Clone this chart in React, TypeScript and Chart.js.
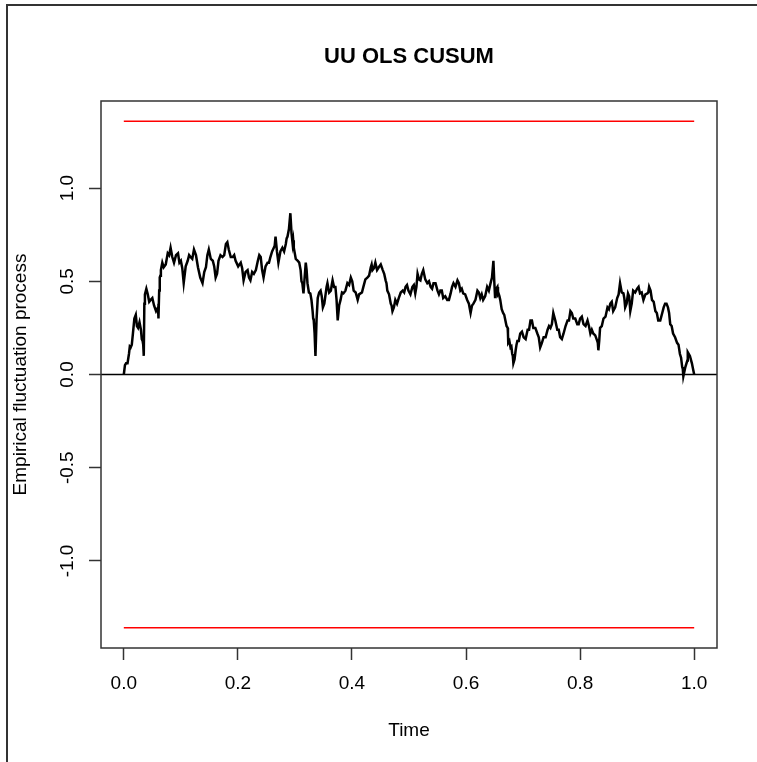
import React, { useEffect, useRef } from 'react';
import { Chart, registerables } from 'chart.js';
Chart.register(...registerables);

const chartTitle = 'UU OLS CUSUM';
const xTitle = 'Time';
const yTitle = 'Empirical fluctuation process';
const xTickValues = [0, 0.2, 0.4, 0.6, 0.8, 1.0];
const yTickValues = [-1.0, -0.5, 0, 0.5, 1.0];
const boundary = 1.358;
const xLimits = [-0.04, 1.04];
const yLimits = [-1.467, 1.467];

// main readings of the path
const timePoints = [
  0, 0.004, 0.009, 0.012, 0.016, 0.021, 0.025, 0.030, 0.033, 0.035,
  0.037, 0.042, 0.047, 0.053, 0.060, 0.061, 0.063, 0.065, 0.070, 0.077,
  0.082, 0.088, 0.095, 0.100, 0.105, 0.112, 0.117, 0.123, 0.130, 0.138,
  0.144, 0.149, 0.156, 0.161, 0.166, 0.173, 0.179, 0.184, 0.191, 0.196,
  0.205, 0.210, 0.217, 0.222, 0.228, 0.235, 0.240, 0.245, 0.252, 0.257,
  0.263, 0.266, 0.271, 0.278, 0.284, 0.287, 0.292, 0.296, 0.298, 0.305,
  0.310, 0.313, 0.315, 0.319, 0.322, 0.327, 0.331, 0.333, 0.336, 0.340,
  0.345, 0.349, 0.354, 0.357, 0.363, 0.366, 0.371, 0.375, 0.380, 0.385,
  0.392, 0.398, 0.403, 0.410, 0.415, 0.420, 0.427, 0.433, 0.436, 0.441,
  0.447, 0.454, 0.459, 0.462, 0.468, 0.471, 0.476, 0.482, 0.489, 0.494,
  0.499, 0.506, 0.511, 0.515, 0.520, 0.525, 0.532, 0.538, 0.543, 0.550,
  0.555, 0.560, 0.567, 0.573, 0.578, 0.585, 0.590, 0.595, 0.602, 0.608,
  0.613, 0.620, 0.625, 0.630, 0.637, 0.643, 0.648, 0.651, 0.655, 0.657,
  0.660, 0.665, 0.669, 0.673, 0.674, 0.678, 0.681, 0.683, 0.687, 0.690,
  0.695, 0.701, 0.708, 0.713, 0.718, 0.725, 0.730, 0.736, 0.743, 0.748,
  0.753, 0.760, 0.765, 0.771, 0.778, 0.783, 0.788, 0.795, 0.800, 0.806,
  0.813, 0.818, 0.823, 0.830, 0.832, 0.835, 0.841, 0.848, 0.853, 0.858,
  0.865, 0.870, 0.876, 0.879, 0.884, 0.888, 0.893, 0.900, 0.905, 0.911,
  0.918, 0.921, 0.926, 0.932, 0.937, 0.944, 0.949, 0.954, 0.958, 0.963,
  0.970, 0.975, 0.979, 0.981, 0.988, 0.989, 0.996, 1.000,
];

const fluctuation = [
  0, 0.06, 0.11, 0.145, 0.22, 0.32, 0.25, 0.24, 0.18, 0.10,
  0.43, 0.43, 0.40, 0.37, 0.36, 0.30, 0.52, 0.56, 0.575, 0.65,
  0.68, 0.60, 0.65, 0.61, 0.49, 0.61, 0.63, 0.67, 0.575, 0.49,
  0.575, 0.67, 0.61, 0.52, 0.61, 0.63, 0.70, 0.67, 0.63, 0.61,
  0.60, 0.505, 0.56, 0.505, 0.54, 0.61, 0.63, 0.52, 0.60, 0.63,
  0.68, 0.74, 0.60, 0.68, 0.70, 0.74, 0.865, 0.70, 0.68, 0.61,
  0.56, 0.49, 0.435, 0.60, 0.49, 0.435, 0.34, 0.29, 0.10, 0.41,
  0.45, 0.36, 0.435, 0.49, 0.45, 0.505, 0.47, 0.29, 0.40, 0.435,
  0.49, 0.52, 0.45, 0.40, 0.435, 0.47, 0.52, 0.575, 0.56, 0.60,
  0.575, 0.56, 0.505, 0.45, 0.38, 0.34, 0.40, 0.41, 0.45, 0.47,
  0.45, 0.47, 0.435, 0.54, 0.505, 0.56, 0.49, 0.47, 0.49, 0.45,
  0.45, 0.41, 0.40, 0.435, 0.49, 0.505, 0.45, 0.435, 0.40, 0.33,
  0.38, 0.45, 0.41, 0.40, 0.47, 0.49, 0.61, 0.41, 0.47, 0.435,
  0.40, 0.33, 0.29, 0.25, 0.17, 0.145, 0.11, 0.06, 0.13, 0.18,
  0.22, 0.20, 0.24, 0.29, 0.25, 0.22, 0.145, 0.20, 0.24, 0.25,
  0.33, 0.24, 0.20, 0.22, 0.29, 0.34, 0.30, 0.27, 0.30, 0.27,
  0.29, 0.22, 0.22, 0.18, 0.13, 0.25, 0.30, 0.36, 0.38, 0.34,
  0.41, 0.49, 0.435, 0.36, 0.435, 0.34, 0.45, 0.46, 0.435, 0.40,
  0.435, 0.47, 0.40, 0.34, 0.29, 0.33, 0.38, 0.36, 0.27, 0.22,
  0.17, 0.11, 0.04, -0.01, 0.075, 0.12, 0.06, 0.00,
];

// in-between readings (the fine jitter between the main readings)
const midTimes = [
  0.002, 0.0065, 0.0105, 0.014, 0.0185, 0.023, 0.0275, 0.0315, 0.034, 0.036,
  0.0395, 0.0445, 0.050, 0.0565, 0.0605, 0.062, 0.064, 0.0675, 0.0735, 0.0795,
  0.085, 0.0915, 0.0975, 0.1025, 0.1085, 0.1145, 0.120, 0.1265, 0.134, 0.141,
  0.1465, 0.1525, 0.1585, 0.1635, 0.1695, 0.176, 0.1815, 0.1875, 0.1935, 0.2005,
  0.2075, 0.2135, 0.2195, 0.225, 0.2315, 0.2375, 0.2425, 0.2485, 0.2545, 0.260,
  0.2645, 0.2685, 0.2745, 0.281, 0.2855, 0.2895, 0.294, 0.297, 0.3015, 0.3075,
  0.3115, 0.314, 0.317, 0.3205, 0.3245, 0.329, 0.332, 0.3345, 0.338, 0.3425,
  0.347, 0.3515, 0.3555, 0.360, 0.3645, 0.3685, 0.373, 0.3775, 0.3825, 0.3885,
  0.395, 0.4005, 0.4065, 0.4125, 0.4175, 0.4235, 0.430, 0.4345, 0.4385, 0.444,
  0.4505, 0.4565, 0.4605, 0.465, 0.4695, 0.4735, 0.479, 0.4855, 0.4915, 0.4965,
  0.5025, 0.5085, 0.513, 0.5175, 0.5225, 0.5285, 0.535, 0.5405, 0.5465, 0.5525,
  0.5575, 0.5635, 0.570, 0.5755, 0.5815, 0.5875, 0.5925, 0.5985, 0.605, 0.6105,
  0.6165, 0.6225, 0.6275, 0.6335, 0.640, 0.6455, 0.6495, 0.653, 0.656, 0.6585,
  0.6625, 0.667, 0.671, 0.6735, 0.676, 0.6795, 0.682, 0.685, 0.6885, 0.6925,
  0.698, 0.7045, 0.7105, 0.7155, 0.7215, 0.7275, 0.733, 0.7395, 0.7455, 0.7505,
  0.7565, 0.7625, 0.768, 0.7745, 0.7805, 0.7855, 0.7915, 0.7975, 0.803, 0.8095,
  0.8155, 0.8205, 0.8265, 0.831, 0.8335, 0.838, 0.8445, 0.8505, 0.8555, 0.8615,
  0.8675, 0.873, 0.8775, 0.8815, 0.886, 0.8905, 0.8965, 0.9025, 0.908, 0.9145,
  0.9195, 0.9235, 0.929, 0.9345, 0.9405, 0.9465, 0.9515, 0.956, 0.9605, 0.9665,
  0.9725, 0.977, 0.980, 0.9845, 0.9885, 0.9925, 0.998,
];

const midValues = [
  0.05, 0.06, 0.15, 0.16, 0.30, 0.26, 0.28, 0.19, 0.16, 0.38,
  0.46, 0.39, 0.41, 0.34, 0.38, 0.45, 0.53, 0.60, 0.59, 0.64,
  0.63, 0.64, 0.60, 0.57, 0.58, 0.64, 0.62, 0.64, 0.52, 0.55,
  0.64, 0.62, 0.58, 0.54, 0.64, 0.64, 0.71, 0.63, 0.64, 0.58,
  0.57, 0.55, 0.52, 0.55, 0.56, 0.64, 0.56, 0.58, 0.60, 0.66,
  0.69, 0.66, 0.66, 0.66, 0.73, 0.78, 0.76, 0.72, 0.62, 0.60,
  0.50, 0.49, 0.52, 0.56, 0.44, 0.40, 0.30, 0.22, 0.30, 0.44,
  0.42, 0.38, 0.47, 0.44, 0.48, 0.47, 0.40, 0.37, 0.44, 0.45,
  0.48, 0.50, 0.44, 0.43, 0.44, 0.51, 0.53, 0.59, 0.57, 0.56,
  0.59, 0.54, 0.49, 0.43, 0.37, 0.36, 0.38, 0.44, 0.44, 0.48,
  0.43, 0.48, 0.47, 0.51, 0.54, 0.51, 0.50, 0.46, 0.49, 0.43,
  0.45, 0.42, 0.40, 0.47, 0.47, 0.49, 0.46, 0.43, 0.38, 0.37,
  0.40, 0.44, 0.43, 0.42, 0.45, 0.52, 0.50, 0.46, 0.43, 0.42,
  0.35, 0.32, 0.26, 0.22, 0.18, 0.15, 0.10, 0.08, 0.16, 0.18,
  0.23, 0.19, 0.24, 0.29, 0.25, 0.20, 0.17, 0.20, 0.26, 0.27,
  0.29, 0.24, 0.19, 0.26, 0.29, 0.33, 0.30, 0.27, 0.31, 0.26,
  0.26, 0.24, 0.21, 0.17, 0.18, 0.26, 0.31, 0.35, 0.39, 0.36,
  0.43, 0.44, 0.41, 0.38, 0.42, 0.38, 0.44, 0.47, 0.44, 0.43,
  0.44, 0.45, 0.39, 0.33, 0.29, 0.36, 0.38, 0.33, 0.26, 0.20,
  0.16, 0.09, 0.03, 0.04, 0.10, 0.10, 0.03,
];

const FONT = "'Liberation Sans', Arial, sans-serif";

export default function App() {
  const ref = useRef<HTMLCanvasElement | null>(null);

  useEffect(() => {
    document.body.style.margin = '0';
    const canvas = ref.current;
    if (!canvas) return;

    const pathData: { x: number; y: number }[] = [];
    timePoints.forEach((t, i) => {
      pathData.push({ x: t, y: fluctuation[i] });
      if (i < midTimes.length) pathData.push({ x: midTimes[i], y: midValues[i] });
    });

    const framePlugin = {
      id: 'framePlugin',
      afterDraw(chart: any) {
        const { ctx, chartArea } = chart;
        ctx.save();
        ctx.strokeStyle = '#333333';
        ctx.lineWidth = 2;
        ctx.beginPath();
        ctx.moveTo(7, 762);
        ctx.lineTo(7, 5);
        ctx.lineTo(757, 5);
        ctx.stroke();
        ctx.lineWidth = 1.5;
        ctx.strokeRect(chartArea.left, chartArea.top, chartArea.right - chartArea.left, chartArea.bottom - chartArea.top);
        ctx.fillStyle = '#000';
        ctx.font = `bold 22px ${FONT}`;
        ctx.textAlign = 'center';
        ctx.textBaseline = 'middle';
        ctx.fillText(chartTitle, (chartArea.left + chartArea.right) / 2, 57);
        ctx.restore();
      },
    };

    const chart = new Chart(canvas, {
      type: 'scatter',
      data: {
        datasets: [
          {
            label: 'process',
            data: pathData,
            showLine: true,
            borderColor: '#000000',
            borderWidth: 2.5,
            borderJoinStyle: 'miter',
            pointRadius: 0,
            tension: 0,
          },
          {
            label: 'zero',
            data: [{ x: xLimits[0], y: 0 }, { x: xLimits[1], y: 0 }],
            showLine: true,
            borderColor: '#000000',
            borderWidth: 1.5,
            pointRadius: 0,
          },
          {
            label: 'upper',
            data: [{ x: 0, y: boundary }, { x: 1, y: boundary }],
            showLine: true,
            borderColor: '#ff0000',
            borderWidth: 1.5,
            pointRadius: 0,
          },
          {
            label: 'lower',
            data: [{ x: 0, y: -boundary }, { x: 1, y: -boundary }],
            showLine: true,
            borderColor: '#ff0000',
            borderWidth: 1.5,
            pointRadius: 0,
          },
        ],
      },
      options: {
        responsive: false,
        animation: false,
        events: [],
        layout: { padding: { top: 101, right: 40, left: 0, bottom: 0 } },
        plugins: {
          legend: { display: false },
          tooltip: { enabled: false },
          title: { display: false },
        },
        scales: {
          x: {
            type: 'linear',
            min: xLimits[0],
            max: xLimits[1],
            afterBuildTicks: (scale: any) => {
              scale.ticks = xTickValues.map((v) => ({ value: v }));
            },
            afterFit: (scale: any) => {
              scale.height = 114;
            },
            grid: {
              display: true,
              drawOnChartArea: false,
              drawTicks: true,
              tickLength: 12,
              tickColor: '#333333',
              tickWidth: 1.5,
            },
            border: { display: false },
            ticks: {
              padding: 12,
              color: '#000',
              font: { family: FONT, size: 19 },
              maxRotation: 0,
              autoSkip: false,
              callback: (v: any) => Number(v).toFixed(1),
            },
            title: {
              display: true,
              text: xTitle,
              color: '#000',
              font: { family: FONT, size: 19 },
              padding: { top: 0, bottom: 20 },
            },
          },
          y: {
            type: 'linear',
            min: yLimits[0],
            max: yLimits[1],
            afterBuildTicks: (scale: any) => {
              scale.ticks = yTickValues.map((v) => ({ value: v }));
            },
            afterFit: (scale: any) => {
              scale.width = 101;
            },
            grid: {
              display: true,
              drawOnChartArea: false,
              drawTicks: true,
              tickLength: 12,
              tickColor: '#333333',
              tickWidth: 1.5,
            },
            border: { display: false },
            ticks: {
              padding: 5,
              color: '#000',
              font: { family: FONT, size: 19 },
              minRotation: 90,
              maxRotation: 90,
              crossAlign: 'center',
              autoSkip: false,
              callback: (v: any) => Number(v).toFixed(1),
            },
            title: {
              display: true,
              text: yTitle,
              color: '#000',
              font: { family: FONT, size: 19 },
              padding: { top: 9, bottom: 0 },
            },
          },
        },
      },
      plugins: [framePlugin],
    } as any);

    return () => chart.destroy();
  }, []);

  return (
    <div style={{ width: 757, height: 762, background: '#fff' }}>
      <canvas ref={ref} width={757} height={762} style={{ display: 'block' }} />
    </div>
  );
}
